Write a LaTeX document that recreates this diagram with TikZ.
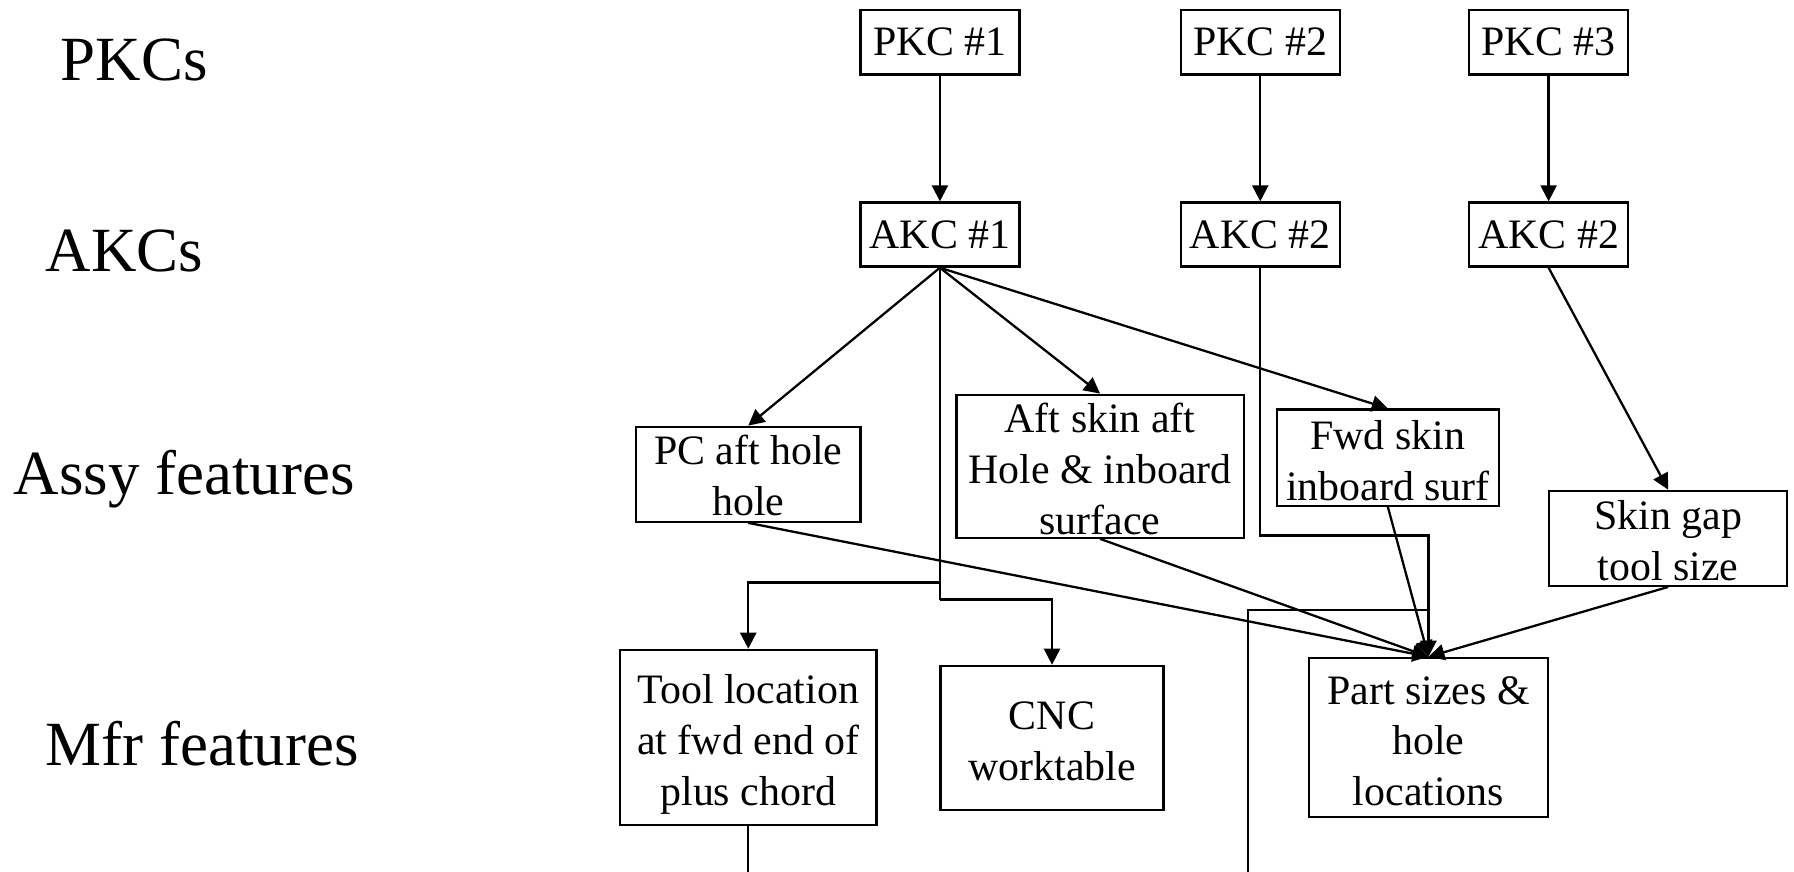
\documentclass[tikz,border=0pt]{standalone}
\usepackage{fontspec}
\setmainfont{Liberation Serif}
\usepackage{tikz}
\usetikzlibrary{arrows.meta}
\tikzset{
  box/.style={draw, line width=2pt, align=center, inner sep=0pt, font=\fontsize{36.6}{44.5}\selectfont},
  lvl/.style={anchor=base west, inner sep=0pt, font=\fontsize{55}{66}\selectfont},
  wire/.style={line width=2pt},
  link/.style={wire, -{Triangle[length=14pt,width=14pt]}},
}
\newcommand{\levellabel}[4]{\node[lvl] (#1) at (#2,#3) {#4};}
\newcommand{\lift}[1]{\rule{0pt}{#1}}

\begin{document}
\begin{tikzpicture}[x=1pt,y=-1pt]
        \useasboundingbox (0,0) rectangle (1568,762);
        % labels for levels
        \levellabel{lpkc}{53}{70}{PKCs}
        \levellabel{lakc}{40}{237}{AKCs}
        \levellabel{lassy}{12}{432}{Assy features}
        \levellabel{lmfr}{40}{669}{Mfr features}
        % PKCs
        \node[box, minimum width=139pt, minimum height=56pt] (pkc1) at (821.5,37) {PKC \#1};
        \node[box, minimum width=139pt, minimum height=56pt] (pkc2) at (1101.5,37) {PKC \#2};
        \node[box, minimum width=139pt, minimum height=56pt] (pkc3) at (1353.5,37) {PKC \#3};
        % AKCs
        \node[box, minimum width=139pt, minimum height=56pt] (akc1) at (821.5,205) {AKC \#1};
        \node[box, minimum width=139pt, minimum height=56pt] (akc2) at (1101.5,205) {AKC \#2};
        \node[box, minimum width=139pt, minimum height=56pt] (akc3) at (1353.5,205) {AKC \#2};
        % assy features
        \node[box, minimum width=196pt, minimum height=83pt] (pcaft) at (654,414.5) {\lift{28pt}PC aft hole\\hole};
        \node[box, minimum width=251pt, minimum height=125pt] (aftskin) at (961.5,407.5) {\lift{30pt}Aft skin aft\\Hole \& inboard\\surface};
        \node[box, minimum width=194pt, minimum height=84pt] (fwdskin) at (1213,400) {\lift{30pt}Fwd skin\\inboard surf};
        \node[box, minimum width=208pt, minimum height=83pt] (gap) at (1458,470.5) {\lift{29pt}Skin gap\\tool size};
        % mfr features
        \node[box, minimum width=224pt, minimum height=153pt] (tool) at (654,644.5) {\lift{38pt}Tool location\\at fwd end of\\plus chord};
        \node[box, minimum width=195pt, minimum height=126pt] (cnc) at (919.5,645) {\lift{30pt}CNC\\worktable};
        \node[box, minimum width=209pt, minimum height=139pt] (parts) at (1248.5,644.5) {\lift{31pt}Part sizes \&\\hole\\locations};
        % bends and loose ends
        \coordinate (splitl) at (821.5,509);
        \coordinate (splitr) at (821.5,524);
        \coordinate (bendb) at (1101.5,468);
        \coordinate (joint) at (1248.5,533);
        \coordinate (btm) at (1091,762);
        \coordinate (toolend) at (654,762);
        % PKC to AKC
        \draw[link] (pkc1.south) -- (akc1.north);
        \draw[link] (pkc2.south) -- (akc2.north);
        \draw[link] (pkc3.south) -- (akc3.north);
        % AKC to features
        \draw[link] (akc1.south) -- (pcaft.north);
        \draw[link] (akc1.south) -- (aftskin.north);
        \draw[link] (akc1.south) -- (fwdskin.north);
        \draw[wire] (akc1.south) -- (splitr);
        \draw[link] (splitl) -| (tool.north);
        \draw[link] (splitr) -| (cnc.north);
        \draw[link] (akc2.south) -- (bendb) -| (parts.north);
        \draw[link] (akc3.south) -- (gap.north);
        % assy to mfr
        \draw[link] (pcaft.south) -- (parts.north);
        \draw[link] (aftskin.south) -- (parts.north);
        \draw[link] (fwdskin.south) -- (parts.north);
        \draw[link] (gap.south) -- (parts.north);
        \draw[wire] (btm) |- (joint);
        \draw[wire] (tool.south) -- (toolend);
\end{tikzpicture}
\end{document}
